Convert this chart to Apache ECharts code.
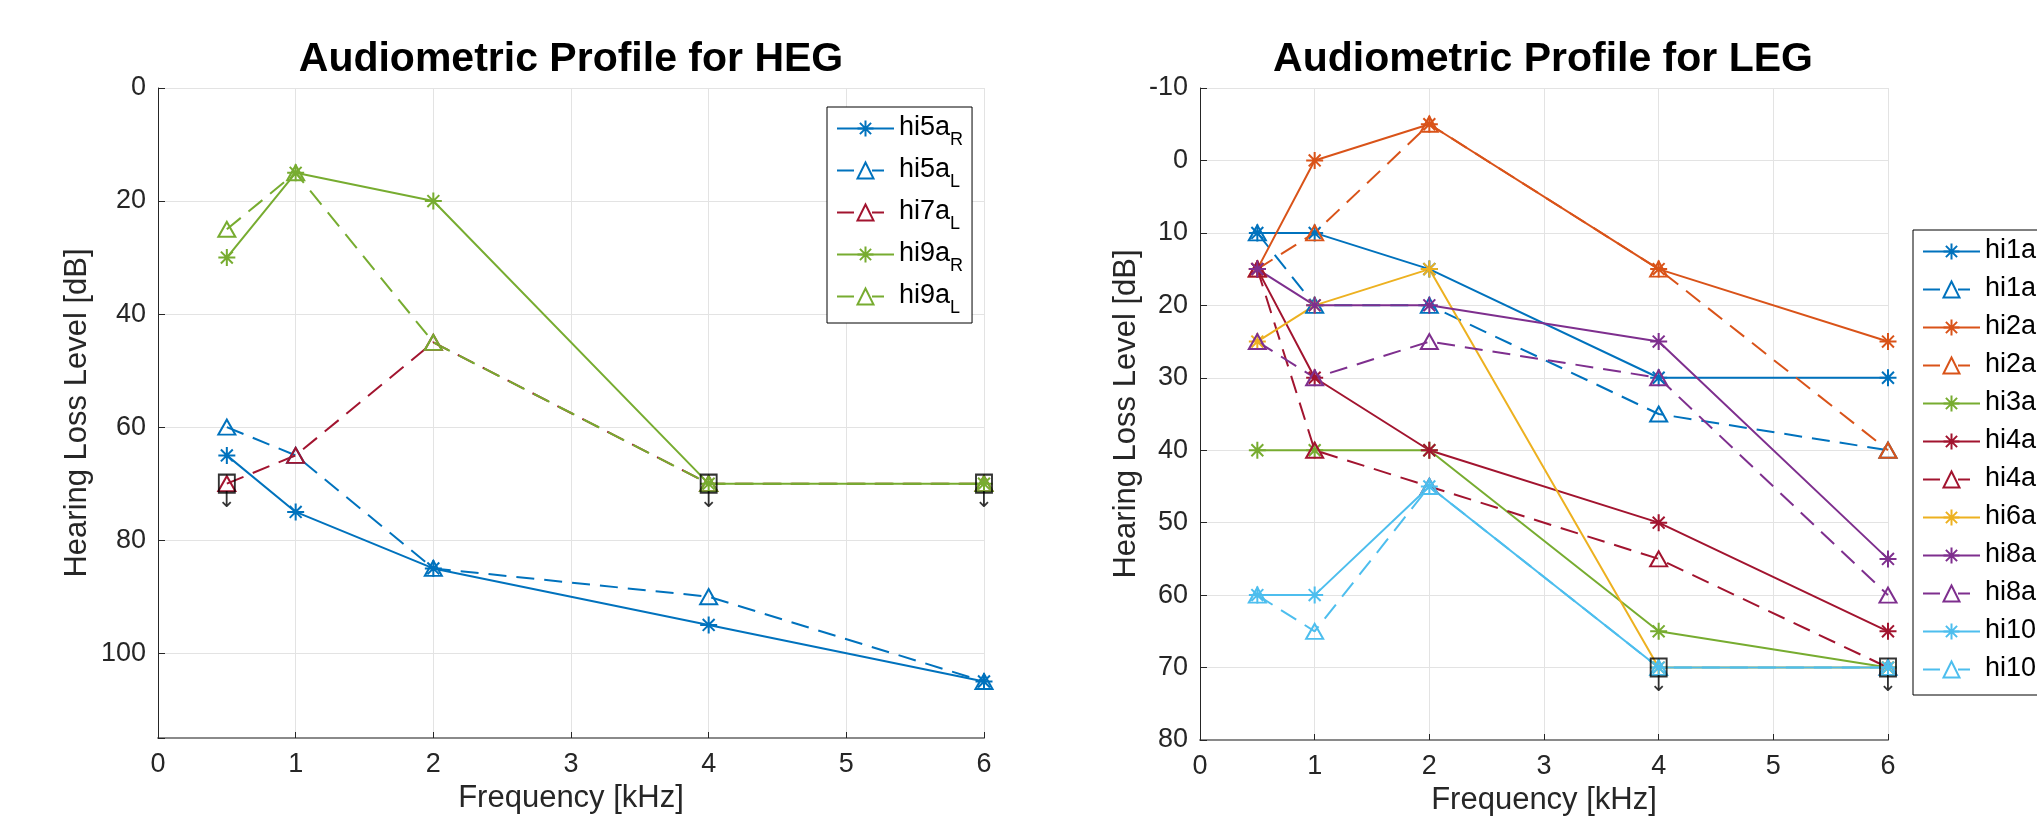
<!DOCTYPE html>
<html>
<head>
<meta charset="utf-8">
<script src="https://cdn.jsdelivr.net/npm/echarts@6/dist/echarts.min.js"></script>
<style>
html,body{margin:0;padding:0;background:#fff;}
#chart{width:2037px;height:822px;}
</style>
</head>
<body>
<div id="chart"></div>
<script>
// ---------- DATA ----------
const freq = [0.5, 1, 2, 4, 6];              // kHz
const xTicks = [0, 1, 2, 3, 4, 5, 6];

// HEG (left panel)
const hegTitle = 'Audiometric Profile for HEG';
const hi5a_R_heg = [65, 75, 85, 95, 105];
const hi5a_L_heg = [60, 65, 85, 90, 105];
const hi7a_L_heg = [70, 65, 45, 70, 70];
const hi9a_R_heg = [30, 15, 20, 70, 70];
const hi9a_L_heg = [25, 15, 45, 70, 70];
const censFreqHEG = [0.5, 4, 6];
const censLevelHEG = [70, 70, 70];

// LEG (right panel)
const legTitle = 'Audiometric Profile for LEG';
const hi1a_R = [10, 10, 15, 30, 30];
const hi1a_L = [10, 20, 20, 35, 40];
const hi2a_R = [15, 0, -5, 15, 25];
const hi2a_L = [15, 10, -5, 15, 40];
const hi3a_R = [40, 40, 40, 65, 70];
const hi4a_R = [15, 30, 40, 50, 65];
const hi4a_L = [15, 40, 45, 55, 70];
const hi6a_R = [25, 20, 15, 70, 70];
const hi8a_R = [15, 20, 20, 25, 55];
const hi8a_L = [25, 30, 25, 30, 60];
const hi10a_R = [60, 60, 45, 70, 70];
const hi10a_L = [60, 65, 45, 70, 70];
const censFreqLEG = [4, 6];
const censLevelLEG = [70, 70];

// ---------- STYLE ----------
const C = {
  blue: '#0072BD', orange: '#D95319', yellow: '#EDB120', purple: '#7E2F8E',
  green: '#77AC30', lblue: '#4DBEEE', red: '#A2142F'
};
const FONT = 'Liberation Sans, Arial, Helvetica, sans-serif';
const TXT = '#262626';
const ASTER = 'path://M0,-10L0,10M-10,0L10,0M-7,-7L7,7M-7,7L7,-7';

function mk(name, vals, gi, color) {
  const left = name.endsWith('_L');
  return {
    type: 'line', name: name, xAxisIndex: gi, yAxisIndex: gi,
    data: freq.map((f, i) => [f, vals[i]]),
    symbol: left ? 'triangle' : ASTER,
    symbolSize: left ? [17, 15] : 17,
    showAllSymbol: true,
    lineStyle: { color: color, width: 2, type: left ? [18, 10] : 'solid' },
    itemStyle: { color: left ? 'rgba(255,255,255,0)' : color, borderColor: color, borderWidth: 2 },
    emphasis: { disabled: true },
    animation: false
  };
}
function cens(fs, ls, gi) {
  return {
    type: 'scatter', name: 'cens' + gi, xAxisIndex: gi, yAxisIndex: gi,
    data: fs.map((f, i) => [f, ls[i]]),
    symbol: 'rect', symbolSize: [16, 18], z: 3,
    itemStyle: { color: 'rgba(255,255,255,0)', borderColor: '#000', borderWidth: 2 },
    label: { show: true, position: 'bottom', distance: -3, formatter: '\u2193',
             fontFamily: 'DejaVu Sans', fontSize: 22, color: '#000' },
    emphasis: { disabled: true }, animation: false
  };
}

const hegSeries = [
  mk('hi5a_R', hi5a_R_heg, 0, C.blue),
  mk('hi5a_L', hi5a_L_heg, 0, C.blue),
  mk('hi7a_L', hi7a_L_heg, 0, C.red),
  mk('hi9a_R', hi9a_R_heg, 0, C.green),
  mk('hi9a_L', hi9a_L_heg, 0, C.green)
];
const legSeries = [
  mk('hi1a_R', hi1a_R, 1, C.blue),
  mk('hi1a_L', hi1a_L, 1, C.blue),
  mk('hi2a_R', hi2a_R, 1, C.orange),
  mk('hi2a_L', hi2a_L, 1, C.orange),
  mk('hi3a_R', hi3a_R, 1, C.green),
  mk('hi4a_R', hi4a_R, 1, C.red),
  mk('hi4a_L', hi4a_L, 1, C.red),
  mk('hi6a_R', hi6a_R, 1, C.yellow),
  mk('hi8a_R', hi8a_R, 1, C.purple),
  mk('hi8a_L', hi8a_L, 1, C.purple),
  mk('hi10a_R', hi10a_R, 1, C.lblue),
  mk('hi10a_L', hi10a_L, 1, C.lblue)
];

function legendFmt(n) {
  const p = n.split('_');
  return '{m|' + p[0] + '}{s|' + p[1] + '}';
}
const legendRich = {
  m: { fontFamily: FONT, fontSize: 27, color: '#000', lineHeight: 35, verticalAlign: 'top', padding: [3, 0, 0, 0] },
  s: { fontFamily: FONT, fontSize: 18, color: '#000', lineHeight: 18, verticalAlign: 'top', padding: [20, 0, 0, 0] }
};
function legendItem(s) {
  const it = { name: s.name };
  if (s.name.endsWith('_L')) {
    it.lineStyle = { type: [17, 18, 12, 40], width: 2 };
  } else {
    it.lineStyle = { type: 'solid', width: 2 };
  }
  return it;
}
function legend(series, left, top, gap, padB) {
  return {
    orient: 'vertical', left: left, top: top, data: series.map(legendItem),
    itemWidth: 57, itemHeight: 20, itemGap: gap,
    padding: [4, 9, padB, 9],
    borderColor: '#000', borderWidth: 1, backgroundColor: '#fff',
    formatter: legendFmt, selectedMode: false,
    textStyle: { rich: legendRich }
  };
}

function xAx(gi) {
  return {
    type: 'value', gridIndex: gi, min: 0, max: 6, interval: 1,
    name: 'Frequency [kHz]', nameLocation: 'middle', nameGap: 43,
    nameTextStyle: { fontFamily: FONT, fontSize: 31, color: TXT },
    axisLine: { show: true, onZero: false, lineStyle: { color: '#8a8a8a', width: 2 } },
    axisTick: { show: true, inside: true, length: 6, lineStyle: { color: TXT } },
    axisLabel: { fontFamily: FONT, fontSize: 27, color: TXT, margin: 13,
                 formatter: v => xTicks.indexOf(v) >= 0 ? String(v) : '' },
    splitLine: { show: true, lineStyle: { color: '#e3e3e3', width: 1 } }
  };
}
function yAx(gi, min, max, interval, gap) {
  return {
    type: 'value', gridIndex: gi, min: min, max: max, interval: interval, inverse: true,
    name: 'Hearing Loss Level [dB]', nameLocation: 'middle', nameGap: gap, nameRotate: 90,
    nameTextStyle: { fontFamily: FONT, fontSize: 31, color: TXT },
    axisLine: { show: true, onZero: false, lineStyle: { color: TXT, width: 1 } },
    axisTick: { show: true, inside: true, length: 7, lineStyle: { color: TXT } },
    axisLabel: { fontFamily: FONT, fontSize: 27, color: TXT, margin: 12,
                 formatter: v => (v % interval === 0 ? String(v) : '') },
    splitLine: { show: true, lineStyle: { color: '#e3e3e3', width: 1 } }
  };
}

const option = {
  backgroundColor: '#fff',
  animation: false,
  title: [
    { text: hegTitle, left: 566, top: 34, textAlign: 'center',
      textStyle: { fontFamily: FONT, fontSize: 41, fontWeight: 'bold', color: '#000' } },
    { text: legTitle, left: 1538, top: 34, textAlign: 'center',
      textStyle: { fontFamily: FONT, fontSize: 41, fontWeight: 'bold', color: '#000' } }
  ],
  grid: [
    { left: 158, top: 88, width: 826, height: 650 },
    { left: 1200, top: 88, width: 688, height: 652 }
  ],
  xAxis: [xAx(0), xAx(1)],
  yAxis: [yAx(0, 0, 115, 20, 65), yAx(1, -10, 80, 10, 58)],
  legend: [
    legend(hegSeries, 827, 107, 4, 6),
    legend(legSeries, 1913, 230, 0, 5)
  ],
  series: [...hegSeries, cens(censFreqHEG, censLevelHEG, 0),
           ...legSeries, cens(censFreqLEG, censLevelLEG, 1)]
};

const chart = echarts.init(document.getElementById('chart'), null, { renderer: 'canvas' });
chart.setOption(option);
</script>
</body>
</html>
